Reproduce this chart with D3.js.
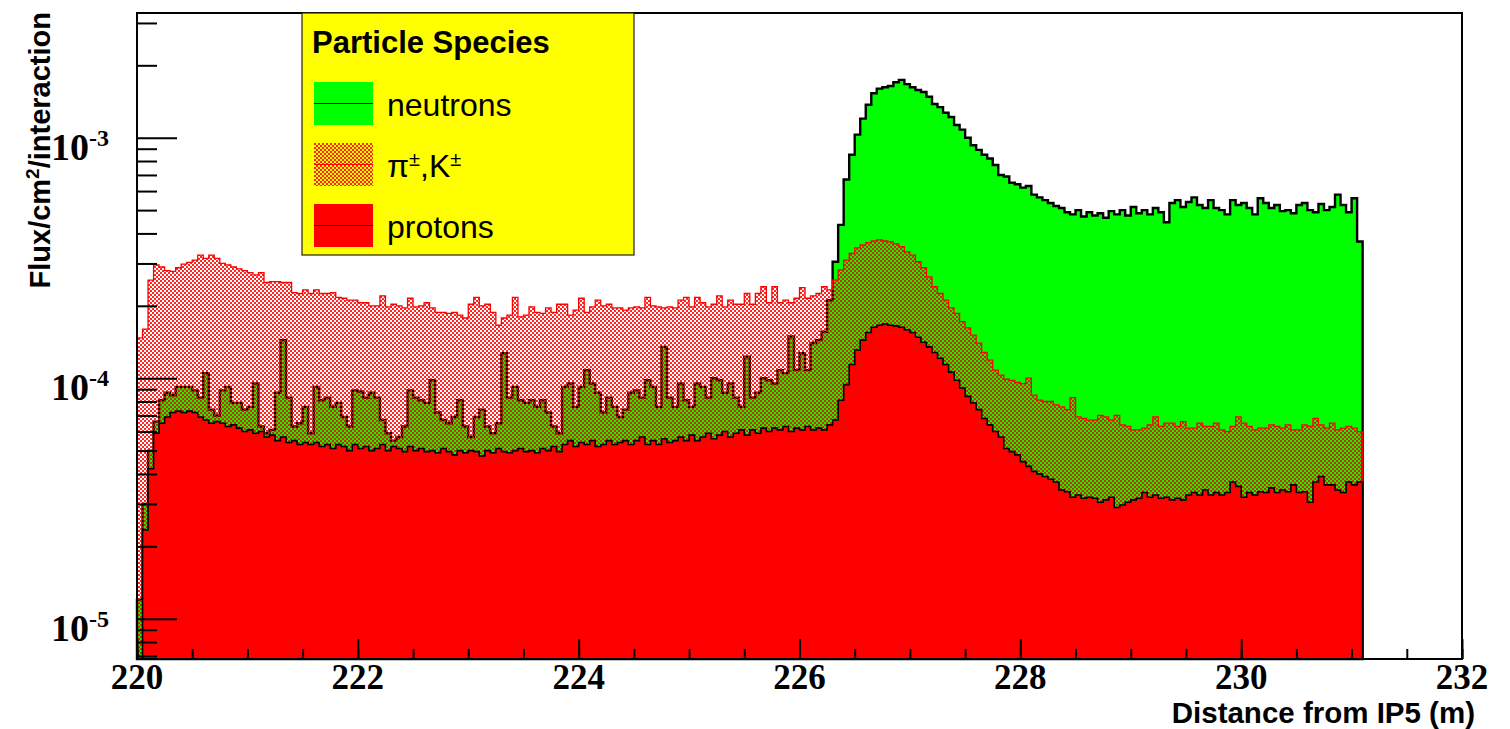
<!doctype html>
<html lang='en'>
<head>
<meta charset='utf-8' />
<style>
  * { margin: 0; padding: 0; }
  body { background: #fff; }
  svg { display: block; }
</style>
<title>Flux per particle species</title>
</head>
<body>
<div id='container'></div>
<script src='https://d3js.org/d3.v7.min.js'></script>
<script>
// histogram binning (m)
const binStart = 220, binWidth = 0.05;

// flux/cm2/interaction per bin
const neutrons = [
  1.2e-5, 3.0e-5, 5.0e-5, 6.6e-5, 8.1e-5, 8.7e-5, 8.5e-5, 9.2e-5, 9.2e-5, 9.2e-5,
  8.9e-5, 8.3e-5, 1.05e-4, 7.4e-5, 7.0e-5, 8.9e-5, 9.2e-5, 7.9e-5, 7.9e-5, 7.4e-5,
  7.6e-5, 9.5e-5, 6.3e-5, 5.9e-5, 6.1e-5, 8.7e-5, 1.44e-4, 8.3e-5, 6.3e-5, 6.5e-5,
  7.6e-5, 5.9e-5, 9.2e-5, 8.1e-5, 8.3e-5, 7.6e-5, 7.9e-5, 6.9e-5, 6.3e-5, 8.9e-5,
  8.8e-5, 8.3e-5, 8.7e-5, 8.3e-5, 6.7e-5, 5.9e-5, 5.5e-5, 5.7e-5, 6.3e-5, 8.9e-5,
  8.3e-5, 8.1e-5, 7.9e-5, 9.8e-5, 7.2e-5, 6.7e-5, 6.5e-5, 6.9e-5, 8.1e-5, 6.3e-5,
  5.7e-5, 6.9e-5, 7.4e-5, 6.3e-5, 5.9e-5, 6.5e-5, 1.27e-4, 8.3e-5, 9.2e-5, 8.1e-5,
  7.9e-5, 8.1e-5, 7.6e-5, 8.1e-5, 7.2e-5, 6.3e-5, 5.9e-5, 9.2e-5, 9.5e-5, 7.6e-5,
  9.2e-5, 1.08e-4, 9.5e-5, 8.7e-5, 7.2e-5, 8.3e-5, 7.6e-5, 6.9e-5, 7.4e-5, 8.7e-5,
  8.9e-5, 8.3e-5, 9.8e-5, 9.2e-5, 7.6e-5, 1.35e-4, 8.3e-5, 7.6e-5, 9.5e-5, 8.1e-5,
  7.6e-5, 9.5e-5, 9.2e-5, 8.3e-5, 1.0e-4, 9.8e-5, 8.7e-5, 9.5e-5, 8.3e-5, 7.6e-5,
  1.23e-4, 8.3e-5, 8.7e-5, 1.0e-4, 9.8e-5, 9.5e-5, 1.08e-4, 1.05e-4, 1.49e-4, 1.08e-4,
  1.27e-4, 1.08e-4, 1.4e-4, 1.44e-4, 1.56e-4, 2.11e-4, 3.05e-4, 4.34e-4, 6.7e-4, 8.5e-4,
  1.03e-3, 1.2e-3, 1.37e-3, 1.53e-3, 1.6e-3, 1.62e-3, 1.64e-3, 1.7e-3, 1.74e-3, 1.67e-3,
  1.62e-3, 1.58e-3, 1.55e-3, 1.48e-3, 1.38e-3, 1.34e-3, 1.27e-3, 1.22e-3, 1.13e-3, 1.08e-3,
  1.0e-3, 9.3e-4, 8.9e-4, 8.5e-4, 8.2e-4, 7.7e-4, 7.0e-4, 6.9e-4, 6.5e-4, 6.4e-4,
  6.2e-4, 6.3e-4, 5.8e-4, 5.65e-4, 5.5e-4, 5.35e-4, 5.2e-4, 5.1e-4, 4.9e-4, 4.8e-4,
  5.0e-4, 4.7e-4, 4.9e-4, 4.75e-4, 4.85e-4, 4.65e-4, 4.95e-4, 4.8e-4, 5.0e-4, 4.75e-4,
  5.15e-4, 4.85e-4, 5.0e-4, 4.8e-4, 5.1e-4, 4.9e-4, 4.45e-4, 5.35e-4, 5.5e-4, 5.15e-4,
  5.4e-4, 5.65e-4, 5.25e-4, 5.1e-4, 5.5e-4, 5.1e-4, 5.0e-4, 4.8e-4, 5.5e-4, 5.25e-4,
  5.35e-4, 5.1e-4, 4.8e-4, 5.6e-4, 5.35e-4, 5.1e-4, 5.25e-4, 4.95e-4, 5.0e-4, 4.85e-4,
  5.25e-4, 5.35e-4, 5.0e-4, 4.9e-4, 5.3e-4, 5.0e-4, 5.15e-4, 5.8e-4, 5.25e-4, 4.9e-4,
  5.6e-4, 3.7e-4
];

const pions = [
  1.47e-4, 1.6e-4, 2.56e-4, 2.96e-4, 2.9e-4, 2.8e-4, 2.78e-4, 2.88e-4, 2.98e-4, 3.03e-4,
  3.1e-4, 3.25e-4, 3.15e-4, 3.25e-4, 3.15e-4, 3.0e-4, 2.96e-4, 2.9e-4, 2.85e-4, 2.8e-4,
  2.75e-4, 2.69e-4, 2.75e-4, 2.5e-4, 2.52e-4, 2.52e-4, 2.5e-4, 2.5e-4, 2.27e-4, 2.25e-4,
  2.33e-4, 2.25e-4, 2.33e-4, 2.25e-4, 2.25e-4, 2.27e-4, 2.17e-4, 2.15e-4, 2.11e-4, 2.11e-4,
  2.06e-4, 2.06e-4, 2.0e-4, 2.0e-4, 2.2e-4, 1.98e-4, 2.03e-4, 2.0e-4, 1.96e-4, 2.15e-4,
  1.98e-4, 2.0e-4, 2.06e-4, 1.96e-4, 1.88e-4, 1.88e-4, 1.86e-4, 1.88e-4, 1.83e-4, 1.78e-4,
  2.03e-4, 2.17e-4, 2.0e-4, 2.03e-4, 1.88e-4, 1.66e-4, 1.78e-4, 1.83e-4, 2.17e-4, 1.8e-4,
  1.83e-4, 1.98e-4, 1.88e-4, 1.86e-4, 1.96e-4, 1.88e-4, 2.03e-4, 2.03e-4, 1.83e-4, 1.92e-4,
  2.15e-4, 1.88e-4, 1.98e-4, 2.11e-4, 2.0e-4, 2.03e-4, 1.96e-4, 1.96e-4, 1.92e-4, 1.96e-4,
  1.98e-4, 1.96e-4, 2.17e-4, 2.0e-4, 1.98e-4, 1.96e-4, 1.98e-4, 1.96e-4, 2.11e-4, 2.17e-4,
  1.98e-4, 2.17e-4, 2.06e-4, 1.98e-4, 2.03e-4, 2.2e-4, 1.98e-4, 2.11e-4, 2.03e-4, 2.03e-4,
  2.25e-4, 2.03e-4, 2.25e-4, 2.4e-4, 2.06e-4, 2.4e-4, 2.06e-4, 2.11e-4, 2.06e-4, 2.15e-4,
  2.38e-4, 2.15e-4, 2.2e-4, 2.25e-4, 2.4e-4, 2.33e-4, 2.56e-4, 2.82e-4, 3.1e-4, 3.3e-4,
  3.48e-4, 3.58e-4, 3.66e-4, 3.72e-4, 3.76e-4, 3.72e-4, 3.69e-4, 3.62e-4, 3.52e-4, 3.35e-4,
  3.25e-4, 3.05e-4, 2.88e-4, 2.64e-4, 2.4e-4, 2.25e-4, 2.11e-4, 1.96e-4, 1.86e-4, 1.72e-4,
  1.62e-4, 1.51e-4, 1.4e-4, 1.28e-4, 1.19e-4, 1.08e-4, 1.03e-4, 9.9e-5, 9.8e-5, 9.6e-5,
  9.5e-5, 1.0e-4, 8.5e-5, 8.1e-5, 8.0e-5, 8.0e-5, 7.75e-5, 7.6e-5, 7.4e-5, 8.3e-5,
  6.9e-5, 6.8e-5, 6.7e-5, 6.7e-5, 7.0e-5, 6.9e-5, 6.7e-5, 7.0e-5, 6.4e-5, 6.3e-5,
  6.1e-5, 6.1e-5, 6.2e-5, 6.4e-5, 6.9e-5, 6.3e-5, 6.5e-5, 6.5e-5, 6.3e-5, 6.6e-5,
  6.2e-5, 6.2e-5, 6.5e-5, 6.3e-5, 6.3e-5, 6.5e-5, 6.1e-5, 6.0e-5, 6.3e-5, 6.9e-5,
  6.5e-5, 6.3e-5, 6.1e-5, 6.2e-5, 6.2e-5, 6.4e-5, 6.3e-5, 6.2e-5, 6.4e-5, 6.1e-5,
  6.1e-5, 6.4e-5, 6.3e-5, 6.8e-5, 6.4e-5, 6.2e-5, 6.5e-5, 6.1e-5, 6.2e-5, 6.3e-5,
  6.2e-5, 6.0e-5
];

const protons = [
  5e-6, 2.34e-5, 4.2e-5, 5.9e-5, 6.5e-5, 6.9e-5, 7.2e-5, 7.3e-5, 7.2e-5, 7.3e-5,
  7.2e-5, 6.9e-5, 6.7e-5, 6.5e-5, 6.6e-5, 6.5e-5, 6.3e-5, 6.4e-5, 6.2e-5, 6.0e-5,
  6.1e-5, 5.9e-5, 6.0e-5, 5.7e-5, 5.8e-5, 5.5e-5, 5.7e-5, 5.4e-5, 5.5e-5, 5.3e-5,
  5.4e-5, 5.3e-5, 5.4e-5, 5.2e-5, 5.3e-5, 5.1e-5, 5.3e-5, 5.2e-5, 5.0e-5, 5.3e-5,
  5.1e-5, 5.2e-5, 5.0e-5, 5.1e-5, 5.3e-5, 5.0e-5, 5.2e-5, 5.1e-5, 4.95e-5, 5.2e-5,
  5.0e-5, 5.1e-5, 4.95e-5, 5.0e-5, 4.9e-5, 5.1e-5, 4.95e-5, 4.8e-5, 5.0e-5, 4.9e-5,
  5.0e-5, 4.95e-5, 4.75e-5, 5.0e-5, 4.9e-5, 5.1e-5, 4.95e-5, 4.9e-5, 5.0e-5, 5.1e-5,
  4.95e-5, 5.0e-5, 4.9e-5, 5.1e-5, 5.0e-5, 5.2e-5, 4.95e-5, 5.3e-5, 5.5e-5, 5.2e-5,
  5.4e-5, 5.3e-5, 5.5e-5, 5.2e-5, 5.3e-5, 5.5e-5, 5.3e-5, 5.4e-5, 5.5e-5, 5.3e-5,
  5.5e-5, 5.7e-5, 5.3e-5, 5.5e-5, 5.3e-5, 5.6e-5, 5.4e-5, 5.5e-5, 5.7e-5, 5.5e-5,
  5.8e-5, 5.5e-5, 5.7e-5, 5.9e-5, 5.6e-5, 5.8e-5, 6.0e-5, 5.7e-5, 5.9e-5, 6.1e-5,
  5.8e-5, 6.1e-5, 5.9e-5, 6.2e-5, 6.0e-5, 6.2e-5, 6.1e-5, 6.3e-5, 6.0e-5, 6.2e-5,
  6.1e-5, 6.3e-5, 6.1e-5, 6.2e-5, 6.1e-5, 6.4e-5, 6.7e-5, 8.1e-5, 9.4e-5, 1.14e-4,
  1.31e-4, 1.44e-4, 1.55e-4, 1.63e-4, 1.66e-4, 1.68e-4, 1.66e-4, 1.65e-4, 1.63e-4, 1.59e-4,
  1.55e-4, 1.48e-4, 1.41e-4, 1.35e-4, 1.28e-4, 1.21e-4, 1.14e-4, 1.06e-4, 9.8e-5, 9.1e-5,
  8.4e-5, 7.9e-5, 7.4e-5, 6.8e-5, 6.4e-5, 6.0e-5, 5.7e-5, 5.1e-5, 4.95e-5, 4.8e-5,
  4.5e-5, 4.3e-5, 4.1e-5, 4.0e-5, 3.9e-5, 3.8e-5, 3.7e-5, 3.43e-5, 3.37e-5, 3.2e-5,
  3.27e-5, 3.17e-5, 3.2e-5, 3.17e-5, 3.05e-5, 3.12e-5, 3.2e-5, 2.9e-5, 2.97e-5, 3.05e-5,
  3.12e-5, 3.17e-5, 3.35e-5, 3.2e-5, 3.27e-5, 3.17e-5, 3.2e-5, 3.12e-5, 3.17e-5, 3.12e-5,
  3.27e-5, 3.35e-5, 3.27e-5, 3.43e-5, 3.27e-5, 3.35e-5, 3.27e-5, 3.35e-5, 3.7e-5, 3.55e-5,
  3.2e-5, 3.35e-5, 3.27e-5, 3.37e-5, 3.35e-5, 3.5e-5, 3.35e-5, 3.43e-5, 3.37e-5, 3.6e-5,
  3.35e-5, 3.37e-5, 3.05e-5, 3.7e-5, 3.9e-5, 3.6e-5, 3.6e-5, 3.43e-5, 3.35e-5, 3.7e-5,
  3.6e-5, 3.7e-5
];

const xTicks = [220, 222, 224, 226, 228, 230, 232];
const yTicks = [1e-5, 1e-4, 1e-3];
const yTickExp = ['-5', '-4', '-3'];
const legendLabels = ['neutrons', 'pions', 'protons'];

const svg_width = 1510, svg_height = 729;
const frame = { left: 137, right: 1462, top: 13, bottom: 659 };

var svg = d3.select('#container').append('svg')
    .attr('width', svg_width)
    .attr('height', svg_height);

// checker fill like the ROOT 3xxx pattern
var defs = svg.append('defs');
var pat = defs.append('pattern')
    .attr('id', 'checker')
    .attr('x', 0).attr('y', 0)
    .attr('width', 4).attr('height', 4)
    .attr('patternUnits', 'userSpaceOnUse');
pat.append('rect').attr('x', 0).attr('y', 0).attr('width', 2).attr('height', 2)
    .attr('fill', '#ff0000').attr('fill-opacity', 0.85).attr('shape-rendering', 'crispEdges');
pat.append('rect').attr('x', 2).attr('y', 2).attr('width', 2).attr('height', 2)
    .attr('fill', '#ff0000').attr('fill-opacity', 0.85).attr('shape-rendering', 'crispEdges');

var x = d3.scaleLinear().domain([220, 232]).range([frame.left, frame.right]);
var y = d3.scaleLog().domain([6.8e-6, 3.3e-3]).range([frame.bottom, frame.top]);

var area = d3.area()
    .curve(d3.curveStepAfter)
    .x(function(d) { return x(d.x); })
    .y0(frame.bottom)
    .y1(function(d) { return d.v > y.domain()[0] ? y(d.v) : frame.bottom; });

function bins(vals) {
  var pts = vals.map(function(v, i) { return { x: binStart + i * binWidth, v: v }; });
  pts.push({ x: binStart + vals.length * binWidth, v: vals[vals.length - 1] });
  return pts;
}

var plot = svg.append('g');

// neutrons first, then the pattern, then protons (overlaid, not stacked)
plot.append('path')
    .attr('d', area(bins(neutrons)))
    .attr('fill', '#00ff00')
    .attr('stroke', '#000')
    .attr('stroke-width', 2.4);

plot.append('path')
    .attr('d', area(bins(pions)))
    .attr('fill', 'url(#checker)')
    .attr('stroke', '#ff0000')
    .attr('stroke-width', 1.3);

// ticks
var minorY = y.ticks().filter(function(t) { return yTicks.indexOf(t) < 0; });
var axG = svg.append('g');
axG.append('g')
    .attr('transform', 'translate(' + frame.left + ',0)')
    .call(d3.axisLeft(y).tickValues(minorY).tickSize(-20).tickFormat(''));
axG.append('g')
    .attr('transform', 'translate(' + frame.left + ',0)')
    .call(d3.axisLeft(y).tickValues(yTicks).tickSize(-40).tickFormat(''));
axG.append('g')
    .attr('transform', 'translate(0,' + frame.bottom + ')')
    .call(d3.axisBottom(x).tickValues(d3.range(220, 232.01, 0.5)).tickSize(-10).tickFormat(''));
axG.append('g')
    .attr('transform', 'translate(0,' + frame.bottom + ')')
    .call(d3.axisBottom(x).tickValues(xTicks).tickSize(-20).tickFormat(''));
axG.selectAll('.domain').remove();
axG.selectAll('line').attr('stroke', '#000').attr('stroke-width', 2);

plot.append('path')
    .attr('d', area(bins(protons)))
    .attr('fill', '#ff0000')
    .attr('stroke', '#000')
    .attr('stroke-width', 1.6);

// frame
svg.append('rect')
    .attr('x', frame.left).attr('y', frame.top)
    .attr('width', frame.right - frame.left)
    .attr('height', frame.bottom - frame.top)
    .attr('fill', 'none')
    .attr('stroke', '#000')
    .attr('stroke-width', 2);

// tick labels
var serif = "'Liberation Serif', 'Times New Roman', serif";
var sans = "'Liberation Sans', Arial, Helvetica, sans-serif";

svg.selectAll('.xlab')
  .data(xTicks)
  .enter()
  .append('text')
    .attr('x', function(d) { return x(d); })
    .attr('y', 689)
    .attr('text-anchor', 'middle')
    .attr('font-family', serif)
    .attr('font-weight', 'bold')
    .attr('font-size', 35)
    .text(function(d) { return d; });

var ylab = svg.selectAll('.ylab')
  .data(yTicks)
  .enter()
  .append('text')
    .attr('x', 109)
    .attr('y', function(d) { return y(d) + 22; })
    .attr('text-anchor', 'end')
    .attr('font-family', serif)
    .attr('font-weight', 'bold');
ylab.append('tspan').attr('font-size', 38).text('10');
ylab.append('tspan').attr('font-size', 24).attr('dy', -14)
    .text(function(d, i) { return yTickExp[i]; });

// axis titles
svg.append('text')
    .attr('x', 1475).attr('y', 723)
    .attr('text-anchor', 'end')
    .attr('font-family', sans)
    .attr('font-weight', 'bold')
    .attr('font-size', 29.5)
    .text('Distance from IP5 (m)');

var yt = svg.append('text')
    .attr('transform', 'translate(50,12) rotate(-90)')
    .attr('text-anchor', 'end')
    .attr('font-family', sans)
    .attr('font-weight', 'bold')
    .attr('font-size', 29);
yt.append('tspan').text('Flux/cm');
yt.append('tspan').attr('font-size', 19).attr('dy', -11).text('2');
yt.append('tspan').attr('dy', 11).text('/interaction');

// legend
var lg = svg.append('g');
lg.append('rect')
    .attr('x', 302).attr('y', 13).attr('width', 332).attr('height', 242)
    .attr('fill', '#ffff00')
    .attr('stroke', '#222')
    .attr('stroke-width', 1.2);
lg.append('text')
    .attr('x', 312).attr('y', 53)
    .attr('font-family', sans)
    .attr('font-weight', 'bold')
    .attr('font-size', 31)
    .text('Particle Species');

var fills = ['#00ff00', 'url(#checker)', '#ff0000'];
var lines = ['#000', '#ff0000', '#000'];
var entry = lg.selectAll('.entry')
  .data(legendLabels)
  .enter()
  .append('g')
    .attr('transform', function(d, i) { return 'translate(314,' + (82 + i * 61) + ')'; });
entry.append('rect')
    .attr('width', 59).attr('height', 43)
    .attr('fill', function(d, i) { return fills[i]; });
entry.append('line')
    .attr('x1', 0).attr('x2', 59).attr('y1', 21.5).attr('y2', 21.5)
    .attr('stroke', function(d, i) { return lines[i]; })
    .attr('stroke-width', 1.2);
var et = entry.append('text')
    .attr('x', 73).attr('y', 34)
    .attr('font-family', sans)
    .attr('font-size', 32);
et.each(function(d) {
  var t = d3.select(this);
  if (d === 'pions') {
    t.append('tspan').text('\u03c0');
    t.append('tspan').attr('font-size', 20).attr('dy', -11).text('\u00b1');
    t.append('tspan').attr('dy', 11).text(',K');
    t.append('tspan').attr('font-size', 20).attr('dy', -11).text('\u00b1');
  } else {
    t.text(d);
  }
});
</script>
</body>
</html>
